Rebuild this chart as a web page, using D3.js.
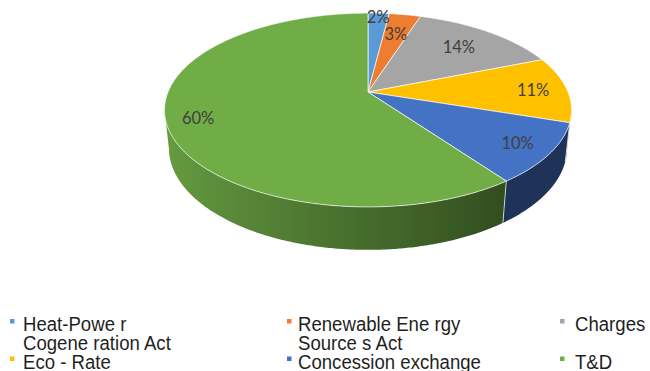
<!DOCTYPE html>
<html><head><meta charset="utf-8">
<script src="https://cdn.jsdelivr.net/npm/d3@7"></script>
<style>html,body{margin:0;padding:0;background:#fff;} svg{display:block}</style>
</head><body><svg id="c" width="650" height="371"></svg>
<script>
// ---- data ----
const categories = ["Heat-Power Cogeneration Act", "Renewable Energy Sources Act", "Charges", "Eco - Rate", "Concession exchange", "T&D"];
const legendLines = [["Heat-Powe r", "Cogene ration Act"], ["Renewable Ene rgy", "Source s Act"], ["Charges"], ["Eco - Rate"], ["Concession exchange"], ["T&D"]];
const values = [2, 3, 14, 11, 10, 60];
const valueLabels = ["2%", "3%", "14%", "11%", "10%", "60%"];
const colors = ["#5B9BD5", "#ED7D31", "#A5A5A5", "#FFC000", "#4472C4", "#70AD47"];

// ---- layout / style ----
const labelRadius = [0.95, 0.72, 0.73, 0.83, 0.84, 0.85];
const cx = 368, cy = 92, f = 951.6, D = 4.759, elev = 27.9 * Math.PI / 180, h = 0.217;
const sE = Math.sin(elev), cE = Math.cos(elev);

const svg = d3.select("#c");

function proj(X, Y, Z) {
  const w = D - Y * cE - Z * sE;
  return [cx + f * X / w, cy + f * (Y * sE - Z * cE) / w];
}
function rim(a, z, k) { k = k == null ? 1 : k; return proj(k * Math.sin(a), -k * Math.cos(a), z); }

const pie = d3.pie().sort(null).value(d => d);
const arcs = pie(values);

const step = Math.PI / 360;
function samples(a0, a1) {
  const n = Math.max(2, Math.ceil((a1 - a0) / step));
  return d3.range(n + 1).map(i => a0 + (a1 - a0) * i / n);
}

// visible side range (silhouette tangents)
const tAng = Math.asin(cE / D);
const vis0 = Math.PI / 2 + tAng, vis1 = 3 * Math.PI / 2 - tAng;
function shade(a) { return Math.max(0.45, 0.62 - 0.3 * Math.sin(a)); }
function mul(col, k) { const c = d3.rgb(col); return d3.rgb(c.r * k, c.g * k, c.b * k).formatHex(); }

const defs = svg.append("defs");
const gSide = svg.append("g");
arcs.forEach((d, i) => {
  const a0 = Math.max(d.startAngle, vis0), a1 = Math.min(d.endAngle, vis1);
  if (a1 <= a0) return;
  const as = samples(a0, a1);
  const top = as.map(a => rim(a, 0));
  const bot = as.map(a => rim(a, -h)).reverse();
  const x1 = top[0][0], x2 = top[top.length - 1][0];
  const gid = "sg" + i;
  const gr = defs.append("linearGradient").attr("id", gid).attr("gradientUnits", "userSpaceOnUse")
    .attr("x1", x1).attr("x2", x2).attr("y1", 0).attr("y2", 0);
  samples(a0, a1).filter((_, j, arr) => j % 6 === 0 || j === arr.length - 1).forEach(a => {
    const x = rim(a, 0)[0];
    gr.append("stop").attr("offset", (x - x1) / (x2 - x1)).attr("stop-color", mul(colors[i], shade(a)));
  });
  gSide.append("path").attr("d", "M" + top.concat(bot).map(p => p.join(",")).join("L") + "Z")
    .attr("fill", "url(#" + gid + ")");
});
// side boundary lines
arcs.forEach(d => {
  const a = d.startAngle;
  if (a > vis0 && a < vis1) {
    const p = rim(a, 0), q = rim(a, -h);
    gSide.append("line").attr("x1", p[0]).attr("y1", p[1]).attr("x2", q[0]).attr("y2", q[1])
      .attr("stroke", "#fff").attr("stroke-opacity", 0.75).attr("stroke-width", 0.9);
  }
});

// top face
const gTop = svg.append("g");
const c0 = proj(0, 0, 0);
arcs.forEach((d, i) => {
  const pts = samples(d.startAngle, d.endAngle).map(a => rim(a, 0));
  gTop.append("path").attr("d", "M" + c0.join(",") + "L" + pts.map(p => p.join(",")).join("L") + "Z")
    .attr("fill", colors[i]).attr("stroke", "#fff").attr("stroke-opacity", 0.75)
    .attr("stroke-width", 0.9).attr("stroke-linejoin", "round");
});

// value labels
arcs.forEach((d, i) => {
  const m = (d.startAngle + d.endAngle) / 2;
  const p = rim(m, 0, labelRadius[i]);
  svg.append("text").attr("x", p[0]).attr("y", p[1]).attr("dy", "0.36em")
    .attr("text-anchor", "middle").attr("font-family", "Lato, 'Open Sans', sans-serif")
    .attr("font-size", 16.5).attr("fill", "#404040").text(valueLabels[i]);
});

// legend
const colMarkX = [10, 287, 560], colTextX = [23, 298, 575];
const rowBase = [331, 368.5], lineH = 18.8;
legendLines.forEach((lines, i) => {
  const col = i % 3, row = Math.floor(i / 3);
  const b = rowBase[row];
  svg.append("rect").attr("x", colMarkX[col]).attr("y", b - 12).attr("width", 4.5).attr("height", 4.5)
    .attr("fill", colors[i]);
  lines.forEach((t, j) => {
    svg.append("text").attr("transform", `translate(${colTextX[col]},${b + j * lineH}) scale(1,1.04)`)
      .attr("font-family", "'Liberation Sans', Arial, sans-serif").attr("font-size", 18.6)
      .attr("fill", "#1f1f1f").text(t);
  });
});
</script></body></html>
